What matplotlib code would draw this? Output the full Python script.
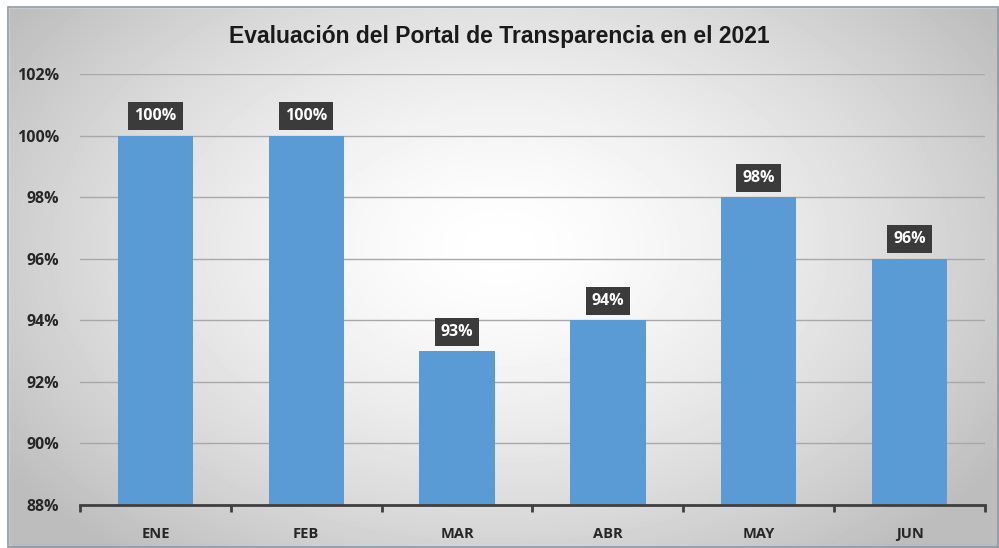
import numpy as np
import matplotlib
matplotlib.use("Agg")
import matplotlib.pyplot as plt
from matplotlib.patches import Rectangle
from matplotlib.ticker import FixedLocator

# Datos de la evaluación mensual
meses = ['ENE', 'FEB', 'MAR', 'ABR', 'MAY', 'JUN']
porcentajes = [100, 100, 93, 94, 98, 96]
y_ticks = [88, 90, 92, 94, 96, 98, 100, 102]
titulo = 'Evaluación del Portal de Transparencia en el 2021'

W, H = 999, 548
fig = plt.figure(figsize=(W / 100, H / 100), dpi=100)

# Fondo con degradado radial (blanco al centro, gris en bordes)
bg = fig.add_axes([0, 0, 1, 1], zorder=0)
yy, xx = np.mgrid[0:H, 0:W]
r = np.sqrt(((xx - W * 0.5) / (W * 0.6)) ** 2 + ((yy - H * 0.45) / (H * 0.72)) ** 2)
r = np.clip(r, 0, 1)
vals = 1.0 - 0.26 * r ** 1.5
bg.imshow(vals, cmap='gray', vmin=0, vmax=1, aspect='auto', extent=[0, W, H, 0])
bg.set_xlim(0, W)
bg.set_ylim(H, 0)
bg.axis('off')
# franja blanca y marco exterior
bg.add_patch(Rectangle((0, 0), W, 7, color='white', zorder=2))
bg.add_patch(Rectangle((0, 0), 8, H, color='white', zorder=2))
bg.add_patch(Rectangle((8, 7), W - 9, H - 8, fill=False, edgecolor='#8a9aa8', lw=1.2, zorder=3))

ax = fig.add_axes([80 / W, (H - 505) / H, 905 / W, (505 - 74) / H], zorder=1)
ax.patch.set_alpha(0)

x = np.arange(len(meses))
ax.bar(x, porcentajes, width=0.5, color='#5b9bd5', zorder=3)
ax.set_xlim(-0.5, len(meses) - 0.5)
ax.set_ylim(88, 102)
ax.set_yticks(y_ticks)
ax.set_yticklabels([f'{v}%' for v in y_ticks])
ax.grid(axis='y', color='#a8a8a8', lw=1, zorder=1)

for s in ['left', 'right', 'top']:
    ax.spines[s].set_visible(False)
ax.spines['bottom'].set_color('#3f3f3f')
ax.spines['bottom'].set_linewidth(2)
ax.spines['bottom'].set_zorder(4)

ax.set_xticks(x)
ax.set_xticklabels(meses)
ax.xaxis.set_minor_locator(FixedLocator(np.arange(-0.5, len(meses), 1)))
ax.tick_params(axis='x', which='major', length=0, pad=16)
ax.tick_params(axis='x', which='minor', length=5, width=2, color='#3f3f3f', direction='out')
ax.tick_params(axis='y', length=0, pad=15)
for lbl in ax.get_xticklabels() + ax.get_yticklabels():
    lbl.set_fontfamily('Open Sans')
    lbl.set_fontweight('bold')
    lbl.set_fontsize(10.5)
    lbl.set_color('#262626')
for lbl in ax.get_yticklabels():
    lbl.set_fontsize(11.5)

# Etiquetas de datos en cajas oscuras
for xi, v in zip(x, porcentajes):
    ax.annotate(f'{v}%', (xi, v), xytext=(0, 14), textcoords='offset points',
                ha='center', va='center', color='white', fontsize=11.5, fontweight='bold',
                fontfamily='Open Sans', zorder=5,
                bbox=dict(boxstyle='square,pad=0.38', fc='#3b3b3b', ec='none'))

fig.text(0.5, (H - 37) / H, titulo, ha='center', va='center',
         fontsize=16.5, fontweight='bold', fontfamily='Liberation Sans', color='#1a1a1a')

fig.savefig('out.png', dpi=100)
